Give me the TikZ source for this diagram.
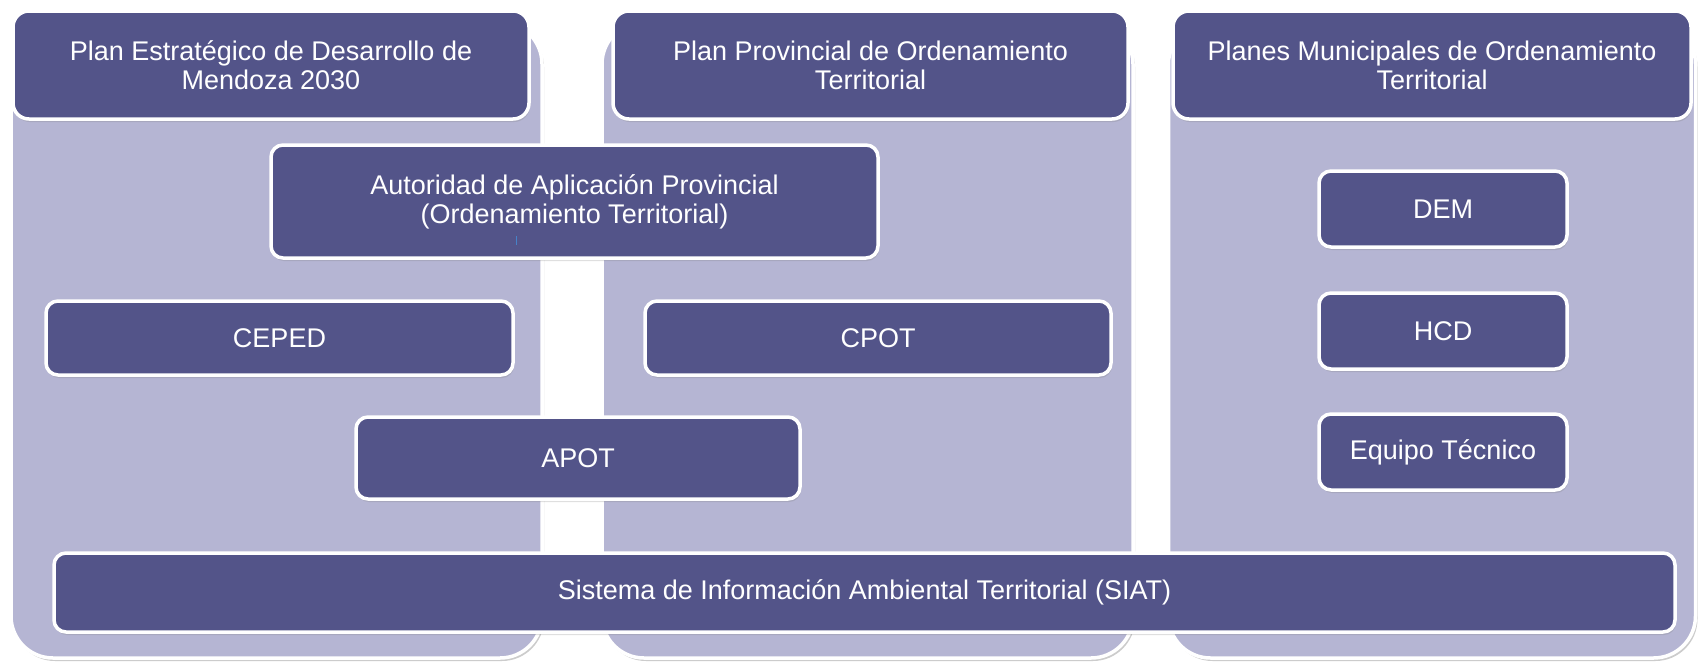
\documentclass[tikz,border=0pt]{standalone}
\usepackage{fontspec}
\setmainfont{Liberation Sans}
\usetikzlibrary{shadows}
\definecolor{boxdark}{RGB}{83,84,137}
\definecolor{boxlight}{RGB}{181,181,211}
\definecolor{tickblue}{RGB}{70,130,200}
\tikzset{panel/.style = {fill=boxlight, draw=white, line width=3.5pt, rounded corners=42pt,
                         drop shadow={opacity=0.4, shadow xshift=2pt, shadow yshift=-3pt}},
         head/.style = {fill=boxdark, draw=white, line width=3.5pt, rounded corners=16pt,
                        text=white, align=center, font={\fontsize{27}{29}\selectfont},
                        drop shadow={opacity=0.25, shadow xshift=1pt, shadow yshift=-3pt}},
         unit/.style = {head, rounded corners=12pt}}

\begin{document}
\begin{tikzpicture}[x=1pt, y=-1pt]
      \useasboundingbox [fill=white] (0, 0) rectangle (1700, 662);

      \node [panel, minimum width=531pt, minimum height=636pt] (panelA) at (276.5, 340) {};
      \node [panel, minimum width=531pt, minimum height=636pt] (panelB) at (867.5, 340) {};
      \node [panel, minimum width=527pt, minimum height=636pt] (panelC) at (1432, 340) {};

      \node [head, minimum width=516pt, minimum height=108pt] (headA) at (271, 65) {Plan Estratégico de Desarrollo de\\Mendoza 2030};
      \node [head, minimum width=515pt, minimum height=108pt] (headB) at (870.5, 65) {Plan Provincial de Ordenamiento\\Territorial};
      \node [head, minimum width=518pt, minimum height=108pt] (headC) at (1432, 65) {Planes Municipales de Ordenamiento\\Territorial};

      \node [unit, minimum width=607pt, minimum height=113pt] (autoridad) at (574.5, 201.5) {Autoridad de Aplicación Provincial\\(Ordenamiento Territorial)};
      \draw [tickblue, line width=1pt] (516, 236) -- (516, 245);
      \node [unit, minimum width=467pt, minimum height=74pt] (ceped) at (279.5, 338) {CEPED};
      \node [unit, minimum width=466pt, minimum height=74pt] (cpot) at (878, 338) {CPOT};
      \node [unit, minimum width=444pt, minimum height=82pt] (apot) at (578, 458) {APOT};
      \node [unit, minimum width=1621pt, minimum height=79pt] (siat) at (864.5, 592.5) {Sistema de Información Ambiental Territorial (SIAT)};

      \node [unit, minimum width=248pt, minimum height=76pt] (dem) at (1443, 209) {DEM};
      \node [unit, minimum width=248pt, minimum height=76pt] (hcd) at (1443, 331) {HCD};
      \node [unit, minimum width=248pt, minimum height=76pt] (equipo) at (1443, 452) {Equipo Técnico};
    \end{tikzpicture}
\end{document}
